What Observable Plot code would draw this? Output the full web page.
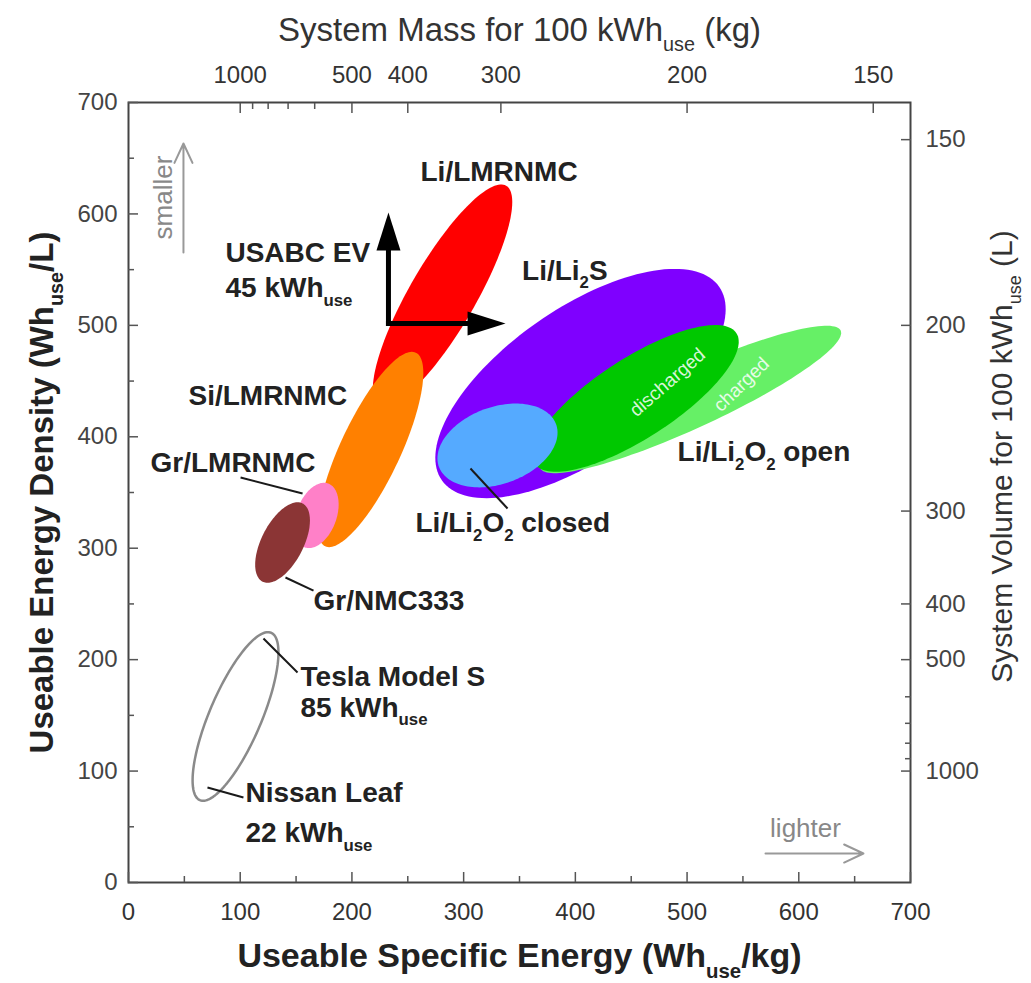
<!DOCTYPE html>
<html>
<head>
<meta charset="utf-8">
<script src="https://cdn.jsdelivr.net/npm/d3@7"></script>
<script src="https://cdn.jsdelivr.net/npm/@observablehq/plot@0.6"></script>
<style>
  html, body { margin: 0; padding: 0; background: #fff; }
</style>
</head>
<body>
<div id="chart"></div>
<script>
// ---------- axis ticks ----------
const xTicks = [0, 100, 200, 300, 400, 500, 600, 700];
const xMinorTicks = [50, 150, 250, 350, 450, 550, 650];
const yTicks = [0, 100, 200, 300, 400, 500, 600, 700];
const yMinorTicks = [50, 150, 250, 350, 450, 550, 650];
const massTicks = [1000, 500, 400, 300, 200, 150];      // kg for 100 kWh (top axis)
const massMinorTicks = [900, 800, 700, 600];
const volumeTicks = [150, 200, 300, 400, 500, 1000];    // L for 100 kWh (right axis)
const volumeMinorTicks = [600, 700, 800, 900];

// ---------- technology regions (ellipses in Wh/kg, Wh/L) ----------
const regionNames  = ["Tesla / Nissan", "Li/LMRNMC", "Si/LMRNMC", "Gr/LMRNMC", "Gr/NMC333", "Li/Li2S", "Li/Li2O2 open charged", "Li/Li2O2 open discharged", "Li/Li2O2 closed"];
const regionCX     = [95.8, 281.1, 216.6, 168.3, 137.9, 404.6, 503.1, 453.9, 330.3];
const regionCY     = [149.0, 526.8, 388.6, 329.4, 305.1, 447.8, 433.5, 434.4, 392.2];
const regionA      = [81.6, 113.8, 95.9, 30.5, 39.4, 151.5, 147.9, 107.6, 55.8];
const regionB      = [23.3, 29.6, 26.9, 17.9, 18.8, 67.2, 26.0, 35.9, 34.5];
const regionTilt   = [67, 60, 65, 70, 63, 35, 24.7, 33, 20];
const regionFill   = ["none", "#ff0000", "#ff8000", "#ff80c8", "#8b3535", "#7f00ff", "#66f066", "#00c800", "#55aaff"];
const regionStroke = ["#8a8a8a", "none", "none", "none", "none", "none", "none", "none", "none"];

// ---------- labels ----------
const labelText = ["Li/LMRNMC", "USABC EV", "45 kWh_{use}", "Li/Li_{2}S", "Si/LMRNMC", "Gr/LMRNMC", "Gr/NMC333",
                   "Li/Li_{2}O_{2} closed", "Li/Li_{2}O_{2} open", "Tesla Model S", "85 kWh_{use}", "Nissan Leaf", "22 kWh_{use}"];
const labelX = [261.4, 86.8, 86.8, 352.3, 53.7, 19.7, 165.6, 256.9, 491.5, 154.0, 154.0, 104.7, 104.7];
const labelY = [637.2, 564.5, 533.1, 549.2, 437.0, 376.0, 252.2, 322.2, 385.9, 184.0, 157.0, 79.9, 44.0];

// leader lines
const leaderX1 = [100.3, 140.5, 306.1, 120.8, 70.7];
const leaderY1 = [363.5, 273.7, 371.5, 219.0, 85.3];
const leaderX2 = [155.8, 165.6, 339.3, 151.3, 102.9];
const leaderY2 = [349.1, 262.0, 335.6, 188.5, 76.3];

// in-ellipse notes
const noteText = ["discharged", "charged"];
const noteX = [482.5, 548.7];
const noteY = [448.7, 446.9];
const noteAngle = [-41, -44];

// USABC EV target and its arrows
const usabcX = 232.7, usabcY = 501.7;
const usabcTipX = [232.7, 337.5];
const usabcTipY = [601.3, 501.7];
const usabcTipRotate = [0, 90];

// direction hints
const hintText = ["smaller", "lighter"];
const hintX = [31.3, 606.0];
const hintY = [614.7, 48.5];
const hintRotate = [-90, 0];
const hintArrowX1 = [49.2, 570.2], hintArrowY1 = [565.4, 26.0];
const hintArrowX2 = [49.2, 657.9], hintArrowY2 = [663.2, 26.0];

// ---------- build outlines ----------
function ellipsePoints(i) {
  const pts = [];
  const th = regionTilt[i] * Math.PI / 180;
  for (let k = 0; k < 144; k++) {
    const t = k / 144 * 2 * Math.PI;
    const ex = regionA[i] * Math.cos(t), ey = regionB[i] * Math.sin(t);
    pts.push({x: regionCX[i] + ex * Math.cos(th) - ey * Math.sin(th),
              y: regionCY[i] + ex * Math.sin(th) + ey * Math.cos(th)});
  }
  return pts;
}
const regionMarks = regionNames.map((name, i) =>
  Plot.line(ellipsePoints(i), {x: "x", y: "y", curve: "linear-closed",
    fill: regionFill[i], stroke: regionStroke[i], strokeWidth: 2.5}));

const labels = labelText.map((t, i) => ({t, x: labelX[i], y: labelY[i]}));
const leaders = leaderX1.map((d, i) => ({x1: leaderX1[i], y1: leaderY1[i], x2: leaderX2[i], y2: leaderY2[i]}));
const notes = noteText.map((t, i) => ({t, x: noteX[i], y: noteY[i], r: noteAngle[i]}));
const hints = hintText.map((t, i) => ({t, x: hintX[i], y: hintY[i], r: hintRotate[i]}));
const hintArrows = hintArrowX1.map((d, i) => ({x1: hintArrowX1[i], y1: hintArrowY1[i], x2: hintArrowX2[i], y2: hintArrowY2[i]}));
const headLen = 26;
const usabcShafts = usabcTipX.map((d, i) => ({
  x2: usabcTipX[i] - (usabcTipX[i] > usabcX ? headLen : 0),
  y2: usabcTipY[i] - (usabcTipY[i] > usabcY ? headLen : 0)}));
const usabcHeads = usabcTipX.map((d, i) => ({x: usabcTipX[i], y: usabcTipY[i], r: usabcTipRotate[i]}));

const arrowHead = {
  draw(context, size) {
    const r = Math.sqrt(size / Math.PI);
    context.moveTo(0, 0);
    context.lineTo(0.6 * r, 1.9 * r);
    context.lineTo(-0.6 * r, 1.9 * r);
    context.closePath();
  }
};

const inv = (v) => 1e5 / v;
const tickColor = "#555";

const chart = Plot.plot({
  width: 1031,
  height: 983,
  marginLeft: 128,
  marginRight: 121,
  marginTop: 102,
  marginBottom: 101,
  x: {domain: [0, 700]},
  y: {domain: [0, 700]},
  style: {fontFamily: "'Liberation Sans', Arial, sans-serif", fontSize: "24px", background: "#fff", color: "#222"},
  marks: [
    ...regionMarks,
    Plot.link(leaders, {x1: "x1", y1: "y1", x2: "x2", y2: "y2", stroke: "#1a1a1a", strokeWidth: 2}),
    Plot.text(notes, {x: "x", y: "y", text: "t", rotate: "r", fill: "#fff", fillOpacity: 0.85, fontSize: 19}),
    Plot.link(usabcShafts, {x1: () => usabcX, y1: () => usabcY, x2: "x2", y2: "y2", stroke: "#000", strokeWidth: 5, strokeLinecap: "square"}),
    Plot.dot(usabcHeads, {x: "x", y: "y", rotate: "r", symbol: arrowHead, r: 20, fill: "#000", stroke: "none"}),
    Plot.arrow(hintArrows, {x1: "x1", y1: "y1", x2: "x2", y2: "y2", stroke: "#999", strokeWidth: 2, headLength: 16, headAngle: 50}),
    Plot.text(hints, {x: "x", y: "y", text: "t", rotate: "r", fill: "#888", fontSize: 26, textAnchor: "middle"}),
    Plot.text(labels, {x: "x", y: "y", text: "t", textAnchor: "start", lineAnchor: "middle", fontSize: 28, fontWeight: "bold", fill: "#222"}),
    Plot.frame({stroke: "#444", strokeWidth: 2}),
    // bottom axis
    Plot.axisX(xTicks, {anchor: "bottom", tickSize: -10, fill: "none", stroke: tickColor, strokeWidth: 1.5}),
    Plot.axisX(xMinorTicks, {anchor: "bottom", tickSize: -6, fill: "none", stroke: tickColor, strokeWidth: 1.5}),
    Plot.axisX(xTicks, {anchor: "bottom", tickSize: 0, tickPadding: 20, label: null, fontSize: 24, fill: "#333"}),
    // left axis
    Plot.axisY(yTicks, {anchor: "left", tickSize: -10, fill: "none", stroke: tickColor, strokeWidth: 1.5}),
    Plot.axisY(yMinorTicks, {anchor: "left", tickSize: -6, fill: "none", stroke: tickColor, strokeWidth: 1.5}),
    Plot.axisY(yTicks, {anchor: "left", tickSize: 0, tickPadding: 11, label: null, fontSize: 24, fill: "#444"}),
    // top axis (system mass)
    Plot.axisX(massTicks.map(inv), {anchor: "top", tickSize: -10, fill: "none", stroke: tickColor, strokeWidth: 1.5}),
    Plot.axisX(massMinorTicks.map(inv), {anchor: "top", tickSize: -6, fill: "none", stroke: tickColor, strokeWidth: 1.5}),
    Plot.axisX(massTicks.map(inv), {anchor: "top", tickSize: 0, tickPadding: 20, label: null, fontSize: 24, fill: "#333",
      tickFormat: (d) => String(Math.round(inv(d)))}),
    // right axis (system volume)
    Plot.axisY(volumeTicks.map(inv), {anchor: "right", tickSize: -10, fill: "none", stroke: tickColor, strokeWidth: 1.5}),
    Plot.axisY(volumeMinorTicks.map(inv), {anchor: "right", tickSize: -6, fill: "none", stroke: tickColor, strokeWidth: 1.5}),
    Plot.axisY(volumeTicks.map(inv), {anchor: "right", tickSize: 0, tickPadding: 15, label: null, fontSize: 24, fill: "#444",
      tickFormat: (d) => String(Math.round(inv(d)))}),
    // axis titles
    Plot.text(["Useable Specific Energy (Wh_{use}/kg)"], {text: (d) => d, frameAnchor: "bottom", dy: 74, lineAnchor: "middle", textAnchor: "middle", fontSize: 34, fontWeight: "bold", fill: "#222"}),
    Plot.text(["Useable Energy Density (Wh_{use}/L)"], {text: (d) => d, frameAnchor: "left", dx: -86, lineAnchor: "middle", textAnchor: "middle", rotate: -90, fontSize: 33, fontWeight: "bold", fill: "#222"}),
    Plot.text(["System Mass for 100 kWh_{use} (kg)"], {text: (d) => d, frameAnchor: "top", dy: -72, lineAnchor: "middle", textAnchor: "middle", fontSize: 33, fill: "#333"}),
    Plot.text(["System Volume for 100 kWh_{use} (L)"], {text: (d) => d, frameAnchor: "right", dx: 92, dy: -36, lineAnchor: "middle", textAnchor: "middle", rotate: -90, fontSize: 30, fill: "#333"})
  ]
});

document.getElementById("chart").append(chart);

// subscripts: turn "_{...}" into smaller, lowered tspans
const SVGNS = "http://www.w3.org/2000/svg";
chart.querySelectorAll("text").forEach((t) => {
  if (t.children.length) return;
  const s = t.textContent;
  if (!s || !s.includes("_{")) return;
  const fs = parseFloat(getComputedStyle(t).fontSize) || 24;
  t.textContent = "";
  let shifted = false;
  for (const p of s.split(/(_\{[^}]*\})/)) {
    if (!p) continue;
    const ts = document.createElementNS(SVGNS, "tspan");
    if (p.startsWith("_{")) {
      ts.textContent = p.slice(2, -1);
      ts.setAttribute("font-size", (fs * 0.6).toFixed(1));
      ts.setAttribute("dy", (fs * 0.3).toFixed(1));
      shifted = true;
    } else {
      ts.textContent = p;
      if (shifted) { ts.setAttribute("dy", (-fs * 0.3).toFixed(1)); shifted = false; }
    }
    t.appendChild(ts);
  }
});
</script>
</body>
</html>
